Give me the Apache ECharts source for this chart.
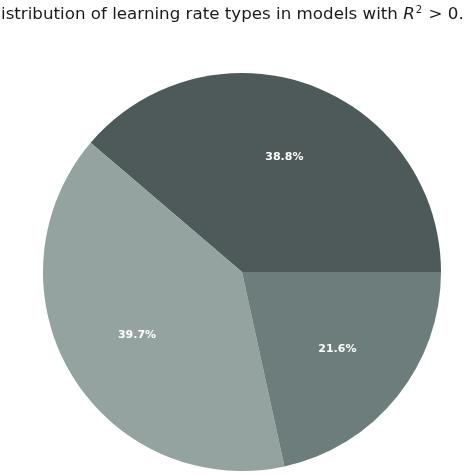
<!DOCTYPE html>
<html>
<head>
<meta charset="utf-8">
<script src="https://cdn.jsdelivr.net/npm/echarts@6/dist/echarts.min.js"></script>
<style>
html,body{margin:0;padding:0;background:#fff;}
#main{width:474px;height:474px;}
</style>
</head>
<body>
<div id="main"></div>
<script>
var categories = ['Type A', 'Type B', 'Type C'];
var shares = [38.8, 39.7, 21.6];
var colors = ['#4e5a5a', '#94a2a0', '#6d7d7b'];

var myChart = echarts.init(document.getElementById('main'));
var pieData = categories.map(function (c, i) {
	return { name: c, value: shares[i], itemStyle: { color: colors[i] } };
});
var R = 199;
var option = {
	animation: false,
	title: {
		text: 'istribution of learning rate types in models with {i|R}{s|2} > 0.',
		left: 1,
		top: 5,
		padding: 0,
		textStyle: {
			fontFamily: 'DejaVu Sans',
			fontSize: 16.7,
			fontWeight: 'normal',
			color: '#1a1a1a',
			rich: {
				i: { fontFamily: 'DejaVu Sans', fontStyle: 'italic', fontSize: 16.7, color: '#1a1a1a' },
				s: { fontFamily: 'DejaVu Sans', fontSize: 10, color: '#1a1a1a', padding: [0, 1, 9, 1] }
			}
		}
	},
	series: [
		{
			type: 'pie',
			center: [242, 272],
			radius: R,
			startAngle: 0,
			clockwise: false,
			silent: true,
			label: { show: false },
			labelLine: { show: false },
			data: pieData
		},
		{
			// label ring, places the text at 0.6 of the radius
			type: 'pie',
			center: [242, 272],
			radius: [R * 0.2, R],
			startAngle: 0,
			clockwise: false,
			silent: true,
			itemStyle: { color: 'rgba(0,0,0,0)' },
			label: {
				show: true,
				position: 'inside',
				formatter: '{c}%',
				color: '#ffffff',
				fontFamily: 'DejaVu Sans',
				fontWeight: 'bold',
				fontSize: 11
			},
			labelLine: { show: false },
			data: categories.map(function (c, i) { return { name: c, value: shares[i] }; })
		}
	]
};
myChart.setOption(option);
</script>
</body>
</html>
